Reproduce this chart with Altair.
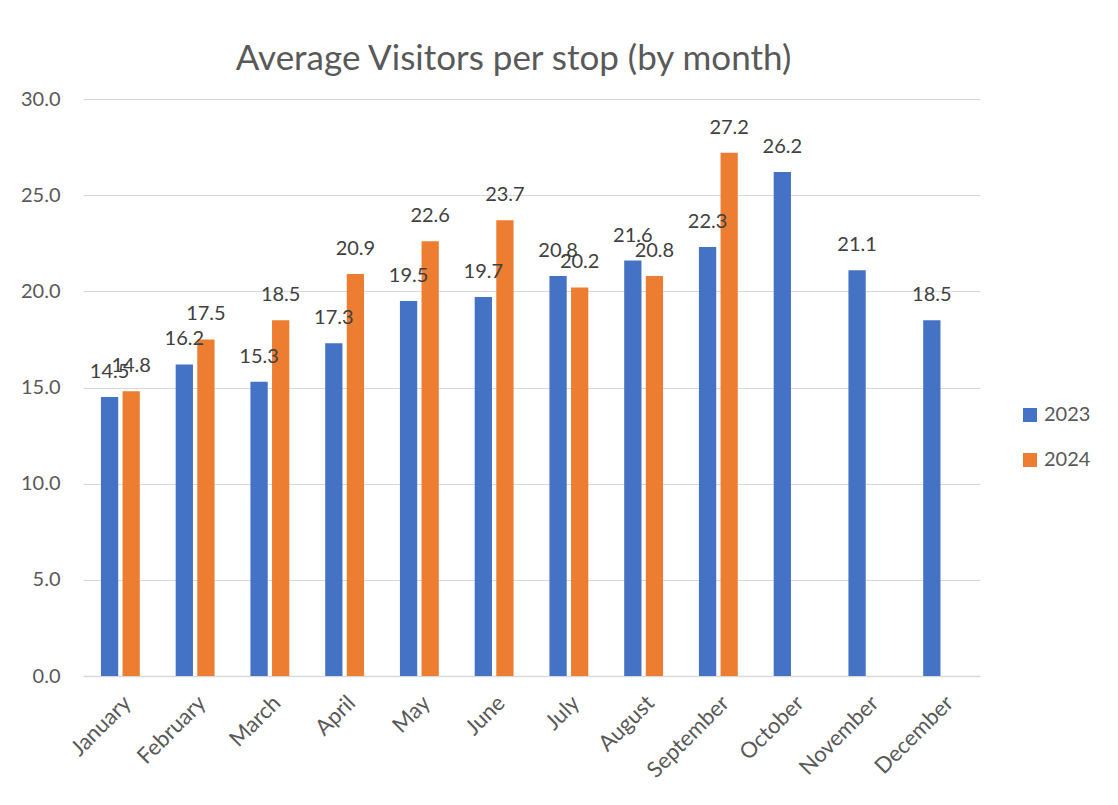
import altair as alt
import pandas as pd

months = ["January", "February", "March", "April", "May", "June", "July",
          "August", "September", "October", "November", "December"]
years = ["2023", "2024"]
values_2023 = [14.5, 16.2, 15.3, 17.3, 19.5, 19.7, 20.8, 21.6, 22.3, 26.2, 21.1, 18.5]
values_2024 = [14.8, 17.5, 18.5, 20.9, 22.6, 23.7, 20.2, 20.8, 27.2]
colors = ["#4472C4", "#ED7D31"]
y_ticks = [0, 5, 10, 15, 20, 25, 30]

rows = []
for m, v in zip(months, values_2023):
    rows.append({"month": m, "year": "2023", "value": v})
for m, v in zip(months, values_2024):
    rows.append({"month": m, "year": "2024", "value": v})
df = pd.DataFrame(rows)

FONT = "Lato"
GRAY = "#595959"

x_enc = alt.X(
    "month:N", sort=months,
    scale=alt.Scale(paddingInner=0.48, paddingOuter=0.24),
    axis=alt.Axis(title=None, labelAngle=-45, labelAlign="right", labelBaseline="top",
                  labelFontSize=22, labelColor=GRAY, ticks=False, domainColor="#D9D9D9",
                  domainWidth=1.5, labelPadding=16, grid=False),
)
xo_enc = alt.XOffset("year:N", scale=alt.Scale(domain=years, paddingInner=0.2))
y_enc = alt.Y(
    "value:Q",
    scale=alt.Scale(domain=[0, 30]),
    axis=alt.Axis(title=None, values=y_ticks, format=".1f", domain=False, ticks=False,
                  gridColor="#D9D9D9", gridWidth=1.2, labelFontSize=20, labelColor=GRAY,
                  labelPadding=23),
)

bars = alt.Chart(df).mark_bar().encode(
    x=x_enc,
    xOffset=xo_enc,
    y=y_enc,
    color=alt.Color(
        "year:N",
        scale=alt.Scale(domain=years, range=colors),
        legend=alt.Legend(title=None, orient="none", legendX=937, legendY=306,
                          symbolType="square", symbolSize=196, symbolStrokeWidth=0,
                          labelFontSize=20, labelColor=GRAY, rowPadding=25,
                          labelOffset=4, padding=0),
    ),
)

labels = alt.Chart(df).mark_text(
    baseline="alphabetic", dy=-19, fontSize=20, color="#404040", font=FONT
).encode(
    x=alt.X("month:N", sort=months),
    xOffset=alt.XOffset("year:N"),
    y=alt.Y("value:Q"),
    text=alt.Text("value:Q", format=".1f"),
)

chart = alt.layer(bars, labels).properties(
    width=897,
    height=577,
    title=alt.TitleParams(
        "Average Visitors per stop (by month)", fontSize=35, font=FONT,
        fontWeight="normal", color=GRAY, anchor="middle", frame="group",
        dx=-18, dy=34, offset=18, baseline="alphabetic",
    ),
    padding={"left": 75, "top": 91, "right": 128, "bottom": 119},
    autosize=alt.AutoSizeParams(type="none"),
).configure(
    font=FONT,
).configure_view(
    stroke=None,
).configure_axis(
    labelFont=FONT,
).configure_legend(
    labelFont=FONT,
)

chart.save("out.html", embed_options={"renderer": "svg", "actions": False})
